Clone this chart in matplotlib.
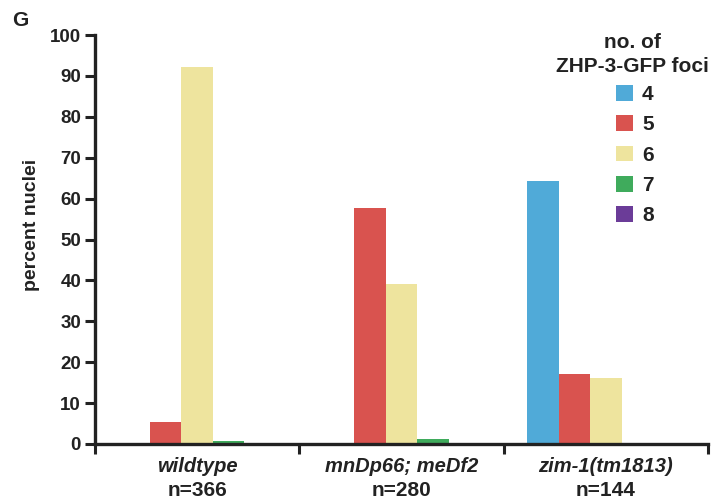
import matplotlib
matplotlib.use("Agg")
import matplotlib.pyplot as plt
import numpy as np
from matplotlib.patches import Patch

plt.rcParams['font.family'] = ['Liberation Sans', 'DejaVu Sans']
plt.rcParams['font.weight'] = 'bold'

genotypes = ["wildtype", "mnDp66; meDf2", "zim-1(tm1813)"]
n_labels = ["n=366", "n=280", "n=144"]
foci = ["4", "5", "6", "7", "8"]
values = {
    "4": [0.0, 0.0, 64.2],
    "5": [5.5, 57.7, 17.0],
    "6": [92.2, 39.0, 16.2],
    "7": [0.8, 1.2, 0.0],
    "8": [0.0, 0.0, 0.0],
}
colors = ["#50aad8", "#d9534f", "#eee49e", "#3fab5c", "#6b3c98"]
yticks = [0, 10, 20, 30, 40, 50, 60, 70, 80, 90, 100]

fig = plt.figure(figsize=(7.12, 5.01), dpi=100)
ax = fig.add_axes([95/712, 1-444/501, 613/712, 409/501])

x = np.arange(len(genotypes))
w = 0.154
for i, f in enumerate(foci):
    ax.bar(x + (i - 2) * w, values[f], width=w, color=colors[i], linewidth=0)

ax.set_xlim(-0.5, 2.5)
ax.set_ylim(0, 100)
ax.set_yticks(yticks)
ax.set_yticklabels([str(t) for t in yticks], fontsize=13.5, fontweight='bold', color='#222222')
ax.set_xticks(x)
ax.set_xticklabels([])
ax.set_xticks([-0.5, 0.5, 1.5, 2.5], minor=True)
ax.tick_params(axis='x', which='major', length=0)
ax.tick_params(axis='x', which='minor', length=7, width=2.2, color='#222222', direction='out')
ax.tick_params(axis='y', length=7, width=2.2, color='#222222', direction='out', pad=3)
for s in ['top', 'right']:
    ax.spines[s].set_visible(False)
for s in ['left', 'bottom']:
    ax.spines[s].set_linewidth(2.4)
    ax.spines[s].set_color('#222222')

for xi, g, n in zip(x, genotypes, n_labels):
    ax.text(xi, -5.6, g, ha='center', va='center', fontsize=14.5, fontweight='bold',
            fontstyle='italic', color='#222222', transform=ax.transData)
    ax.text(xi, -11.3, n, ha='center', va='center', fontsize=15, fontweight='bold',
            color='#222222', transform=ax.transData)

fig.text(31/712, 1-225/501, "percent nuclei", fontsize=14, fontweight='bold', color='#222222',
         rotation=90, ha='center', va='center')

fig.text(12/712, 1-20/501, "G", fontsize=15, fontweight='bold', color='#222222', va='center', ha='left')

fig.text(632/712, 1-43/501, "no. of", fontsize=15, fontweight='bold', color='#222222', ha='center', va='center')
fig.text(632/712, 1-66/501, "ZHP-3-GFP foci", fontsize=15, fontweight='bold', color='#222222', ha='center', va='center')

handles = [Patch(facecolor=c, edgecolor='none') for c in colors]
leg = fig.legend(handles, foci, loc='upper left', bbox_to_anchor=(616/712, 1-85/501),
                 frameon=False, prop={'size': 15, 'weight': 'bold'},
                 handlelength=0.8, handleheight=0.8, handletextpad=0.45,
                 labelspacing=0.53, borderpad=0, borderaxespad=0)
for t in leg.get_texts():
    t.set_color('#222222')

fig.savefig("out.png", dpi=100)
